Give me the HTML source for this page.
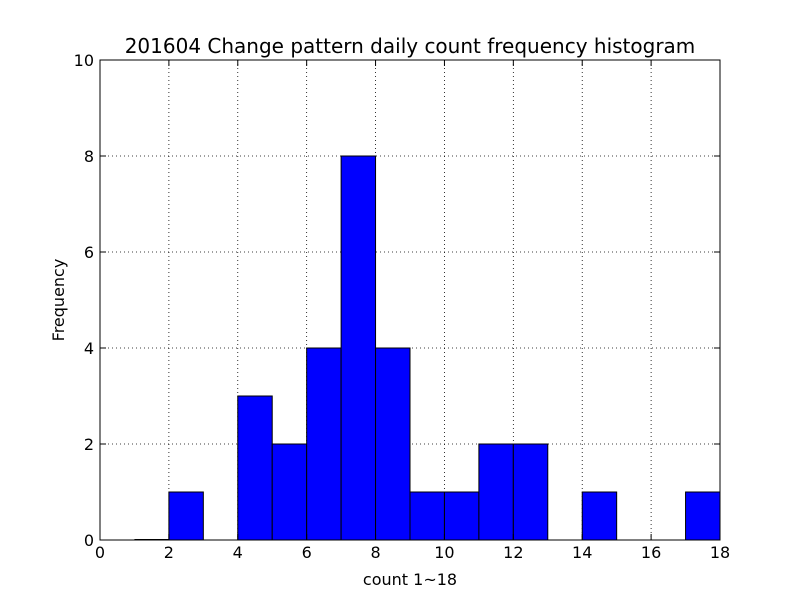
<!DOCTYPE html>
<html><head><meta charset="utf-8"><style>
body{margin:0;background:#fff;}
svg text{font-family:"DejaVu Sans","Liberation Sans",sans-serif;}
</style></head><body>
<svg id="chart" width="800" height="600" xmlns="http://www.w3.org/2000/svg">
<rect width="800" height="600" fill="#fff"/>
<g id="grid"></g>
<g id="bars"></g>
<rect x="100" y="60" width="620" height="480" fill="none" stroke="#000" stroke-width="1"/>
<g id="ticks"></g>
<text x="410" y="53" text-anchor="middle" font-size="20">201604 Change pattern daily count frequency histogram</text>
<text x="410" y="585" text-anchor="middle" font-size="16">count 1~18</text>
<text transform="translate(64,300) rotate(-90)" text-anchor="middle" font-size="16">Frequency</text>
</svg>
<script>
const binStarts=[1,2,3,4,5,6,7,8,9,10,11,12,13,14,15,16,17];
const counts=[0,1,0,3,2,4,8,4,1,1,2,2,0,1,0,0,1];
const xTicks=[0,2,4,6,8,10,12,14,16,18];
const yTicks=[0,2,4,6,8,10];
const NS="http://www.w3.org/2000/svg";
const X=v=>100+v*620/18, Y=v=>540-v*48;
const bars=document.getElementById('bars'),grid=document.getElementById('grid'),ticks=document.getElementById('ticks');
function mk(tag,attrs,parent){const e=document.createElementNS(NS,tag);for(const k in attrs)e.setAttribute(k,attrs[k]);parent.appendChild(e);return e;}
binStarts.forEach((b,i)=>{
 if(counts[i]===0&&b===1){
  const l=mk('line',{x1:X(b),x2:X(b+1),y1:Y(0)-0.5,y2:Y(0)-0.5,stroke:'#000','stroke-width':1},bars);
  
  
  return;
 }
 const r=mk('rect',{x:X(b),y:Y(counts[i]),width:X(b+1)-X(b),height:Y(0)-Y(counts[i]),fill:'#0000ff',stroke:'#000','stroke-width':1},bars);
 
 
});
xTicks.forEach(t=>{
 const x=X(t);
 mk('line',{x1:x,x2:x,y1:60,y2:540,stroke:'#000','stroke-dasharray':'1,3','stroke-width':0.8},grid);
 mk('line',{x1:x,x2:x,y1:540,y2:534,stroke:'#000'},ticks);
 mk('line',{x1:x,x2:x,y1:60,y2:66,stroke:'#000'},ticks);
 const tx=mk('text',{x:x,y:558,'text-anchor':'middle','font-size':16},ticks);tx.textContent=t;
 
 
});
yTicks.forEach(t=>{
 const y=Y(t);
 mk('line',{x1:100,x2:720,y1:y,y2:y,stroke:'#000','stroke-dasharray':'1,3','stroke-width':0.8},grid);
 mk('line',{x1:100,x2:106,y1:y,y2:y,stroke:'#000'},ticks);
 mk('line',{x1:714,x2:720,y1:y,y2:y,stroke:'#000'},ticks);
 const tx=mk('text',{x:94,y:y+6,'text-anchor':'end','font-size':16},ticks);tx.textContent=t;
 
 
});
</script>
</body></html>
